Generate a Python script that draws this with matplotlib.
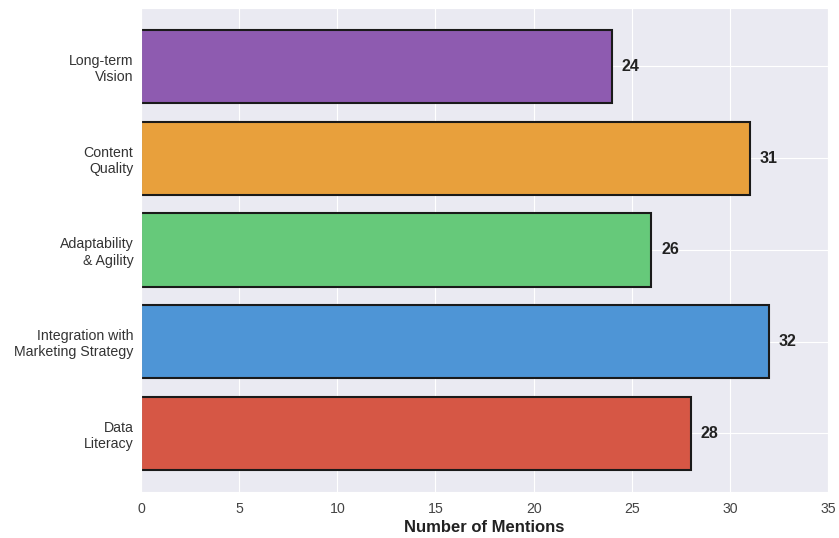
#!/usr/bin/env python
import matplotlib
matplotlib.use("Agg")
from matplotlib import pyplot as plt
import seaborn as sns

# data, bottom to top
skills = ["Data\nLiteracy", "Integration with\nMarketing Strategy", "Adaptability\n& Agility",
          "Content\nQuality", "Long-term\nVision"]
mentions = [28, 32, 26, 31, 24]
bar_colors = ["#D65745", "#4E95D6", "#66C97A", "#E8A03C", "#8E5BB0"]

sns.set_style("darkgrid")
plt.rcParams['font.family'] = ['Liberation Sans', 'DejaVu Sans']

fig = plt.figure(figsize=(8.39, 5.38), dpi=100)
ax = fig.add_axes([0.168, 0.0855, 0.819, 0.90])

y_pos = range(len(skills))
ax.barh(y_pos, mentions, height=0.8, color=bar_colors, edgecolor="#1a1a1a", linewidth=1.5)

for y, v in zip(y_pos, mentions):
    ax.text(v + 0.5, y, str(v), va="center", ha="left", fontsize=11.5, fontweight="bold", color="#222222")

ax.set_yticks(list(y_pos))
ax.set_yticklabels(skills, fontsize=10.2, color="#333333")
ax.tick_params(axis="y", pad=2)
ax.set_xlim(0, 35)
ax.set_xticks(range(0, 36, 5))
ax.tick_params(axis="x", labelsize=10.2, labelcolor="#444444")
ax.set_xlabel("Number of Mentions", fontsize=12, fontweight="bold", color="#222222", labelpad=3)

fig.savefig("out.png", dpi=100)
